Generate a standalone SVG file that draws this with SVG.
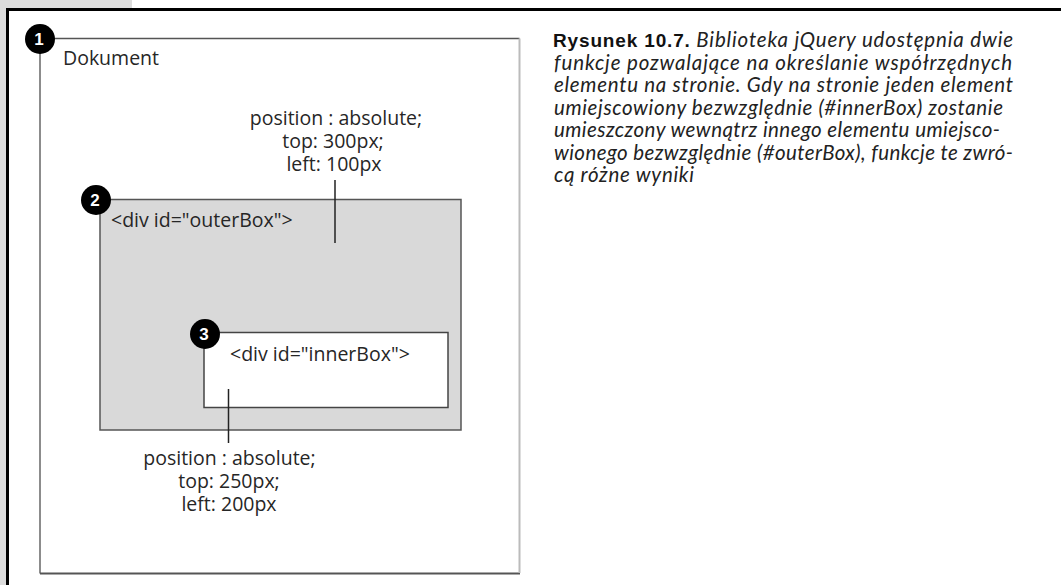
<svg xmlns="http://www.w3.org/2000/svg" width="1061" height="585" viewBox="0 0 1061 585">
<style>
.lbl{font-family:"Open Sans","Liberation Sans",sans-serif;font-size:19.5px;fill:#262626}
.num{font-family:"Liberation Sans",Arial,sans-serif;font-weight:bold;font-size:17px;fill:#fff;text-anchor:middle}
.badge{fill:#000}
.conn{stroke:#222;stroke-width:1.5;fill:none}
.cap{font-family:Lato,"Liberation Sans",sans-serif;font-style:italic;font-size:20.5px;fill:#222}
.capb{font-family:"Liberation Sans",Arial,sans-serif;font-weight:bold;font-style:normal;font-size:19px;fill:#111}
</style>
<rect width="1061" height="585" fill="#fff"/>
<rect x="0" y="0" width="132" height="8" fill="#dcdcdc"/>
<rect x="0" y="0" width="6" height="585" fill="#dcdcdc"/>
<rect x="6" y="8" width="1055" height="3" fill="#000"/>
<rect x="6" y="8" width="3" height="577" fill="#000"/>

<g id="dokument">
  <line x1="40" y1="38.5" x2="519.5" y2="38.5" stroke="#555" stroke-width="1.5"/>
  <line x1="40" y1="38.5" x2="40" y2="573.5" stroke="#666" stroke-width="1.5"/>
  <line x1="40" y1="573.5" x2="520" y2="573.5" stroke="#555" stroke-width="2"/>
  <line x1="519.5" y1="38.5" x2="519.5" y2="573" stroke="#bbb" stroke-width="2"/>
  <circle class="badge" cx="40" cy="39" r="15"/>
  <text class="num" x="39" y="45">1</text>
  <text class="lbl" x="63" y="65" font-size="20">Dokument</text>
</g>

<g id="outerBox">
  <rect x="100" y="199.5" width="361" height="230.5" fill="#d9d9d9" stroke="#555" stroke-width="1.5"/>
  <circle class="badge" cx="96" cy="200" r="15"/>
  <text class="num" x="95" y="206">2</text>
  <text class="lbl" x="111" y="227" font-size="20">&lt;div id="outerBox"&gt;</text>
</g>

<g id="innerBox">
  <rect x="204" y="332.5" width="244" height="75" fill="#fff" stroke="#444" stroke-width="1.5"/>
  <circle class="badge" cx="205" cy="334" r="15"/>
  <text class="num" x="204" y="340">3</text>
  <text class="lbl" x="230" y="361" font-size="20">&lt;div id="innerBox"&gt;</text>
</g>

<g id="outerStyle">
  <text class="lbl" text-anchor="middle" x="336" y="125">position : absolute;</text>
  <text class="lbl" text-anchor="middle" x="333" y="148">top: 300px;</text>
  <text class="lbl" text-anchor="middle" x="334" y="171">left: 100px</text>
</g>

<g id="innerStyle">
  <text class="lbl" text-anchor="middle" x="229.5" y="465">position : absolute;</text>
  <text class="lbl" text-anchor="middle" x="229" y="488">top: 250px;</text>
  <text class="lbl" text-anchor="middle" x="229" y="511">left: 200px</text>
</g>

<g id="connectors">
  <line class="conn" x1="335" y1="180" x2="335" y2="243"/>
  <line class="conn" x1="228.5" y1="389" x2="228.5" y2="443"/>
</g>

<g id="caption">
  <text class="cap" x="553" y="47" textLength="460"><tspan class="capb">Rysunek 10.7.</tspan> Biblioteka jQuery udostępnia dwie</text>
  <text class="cap" x="554" y="69.5" textLength="458">funkcje pozwalające na określanie współrzędnych</text>
  <text class="cap" x="554" y="92" textLength="459">elementu na stronie. Gdy na stronie jeden element</text>
  <text class="cap" x="554" y="114.5" textLength="449">umiejscowiony bezwzględnie (#innerBox) zostanie</text>
  <text class="cap" x="554" y="137" textLength="446">umieszczony wewnątrz innego elementu umiejsco-</text>
  <text class="cap" x="554" y="159.5" textLength="459">wionego bezwzględnie (#outerBox), funkcje te zwró-</text>
  <text class="cap" x="554" y="182" textLength="140">cą różne wyniki</text>
</g>
</svg>
